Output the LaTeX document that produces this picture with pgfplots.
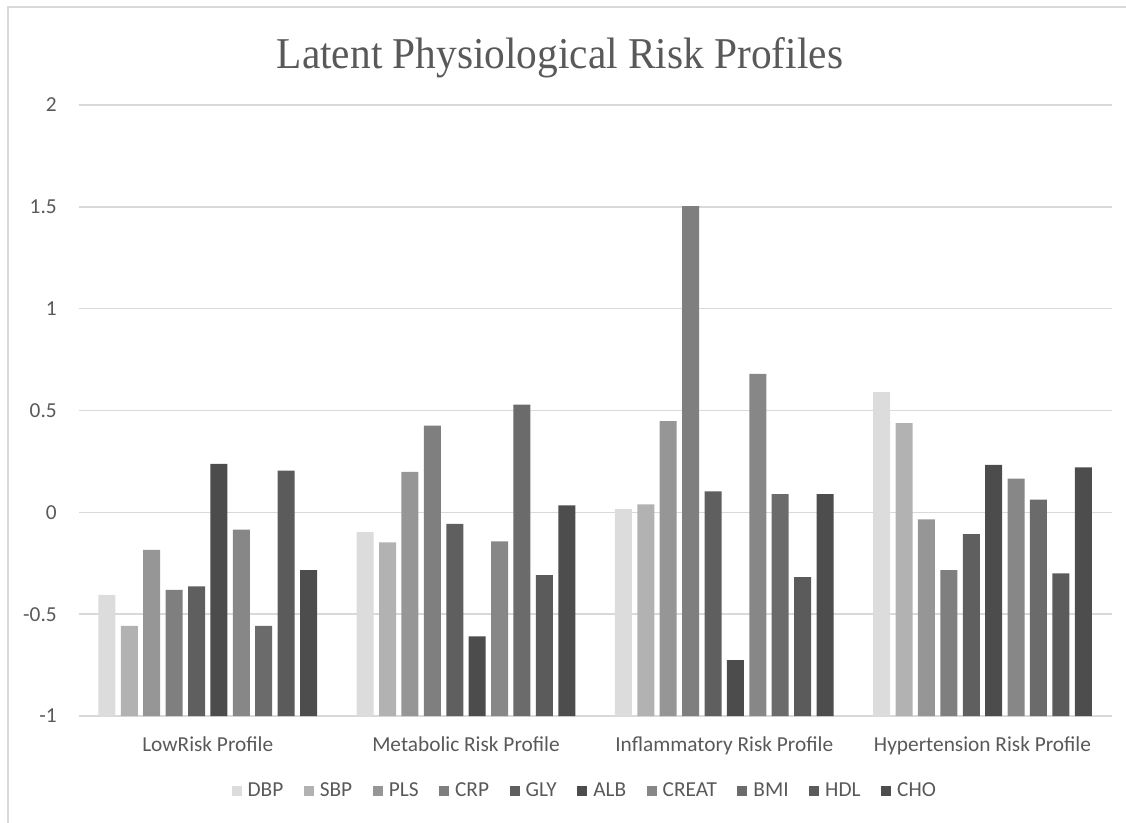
\documentclass[border=0pt]{standalone}
\usepackage{fontspec}
\setmainfont{Carlito}
\newfontfamily\titlefont{Liberation Serif}
\usepackage{pgfplots}
\usepackage{pgfplotstable}
\pgfplotsset{compat=1.18}
\definecolor{tickgray}{HTML}{595959}
\definecolor{gridgray}{HTML}{D9D9D9}
\definecolor{cDBP}{HTML}{DCDCDC}
\definecolor{cSBP}{HTML}{B2B2B2}
\definecolor{cPLS}{HTML}{969696}
\definecolor{cCRP}{HTML}{7F7F7F}
\definecolor{cGLY}{HTML}{5F5F5F}
\definecolor{cALB}{HTML}{4C4C4C}
\definecolor{cCREAT}{HTML}{878787}
\definecolor{cBMI}{HTML}{6B6B6B}
\definecolor{cHDL}{HTML}{5B5B5B}
\definecolor{cCHO}{HTML}{4D4D4D}
\pgfplotstableread{
x DBP SBP PLS CRP GLY ALB CREAT BMI HDL CHO
0 -0.405 -0.558 -0.184 -0.381 -0.363 0.238 -0.085 -0.558 0.205 -0.284
1 -0.097 -0.148 0.199 0.426 -0.057 -0.609 -0.143 0.529 -0.308 0.034
2 0.017 0.039 0.448 1.503 0.103 -0.726 0.680 0.089 -0.318 0.089
3 0.590 0.438 -0.034 -0.284 -0.107 0.233 0.166 0.062 -0.300 0.221
}\datatable
\begin{document}
\begin{tikzpicture}
\path[use as bounding box] (-58.95pt,-80.25pt) rectangle (785.55pt,537pt);
\draw[gridgray, line width=1.1pt] (-52.95pt,-80.25pt) -- (-52.95pt,531.75pt) -- (785.55pt,531.75pt);
% bars rise from the axis minimum (-1), as in the reference: values are plotted as value+1 on a 0..3 axis
\begin{axis}[
  at={(0,0)}, anchor=south west,
  scale only axis, width=774.75pt, height=458.25pt,
  ybar=4.05pt, bar width=12.75pt,
  ymin=0, ymax=3,
  xmin=-0.5, xmax=3.5,
  ytick={0,0.5,1,1.5,2,2.5,3},
  yticklabels={-1,-0.5,0,0.5,1,1.5,2},
  xtick={0,1,2,3},
  xticklabels={LowRisk Profile,Metabolic Risk Profile,Inflammatory Risk Profile,Hypertension Risk Profile},
  ymajorgrids,
  major grid style={gridgray, line width=1.1pt},
  axis line style={draw=none},
  major tick length=0pt,
  tick style={draw=none},
  yticklabel style={font=\fontsize{16}{19}\selectfont, text=tickgray, anchor=east, inner sep=0pt, xshift=-16.2pt},
  xticklabel style={font=\fontsize{16}{19}\selectfont, text=tickgray, anchor=base, inner sep=0pt, yshift=-26.25pt},
  clip=false,
  every axis plot post/.append style={/pgfplots/legend image code/.code={\fill[##1] (0pt,-3.75pt) rectangle (7.5pt,3.75pt);}},
  legend style={draw=none, fill=none, at={(0.489,-0.1228)}, anchor=center,
    font=\fontsize{16}{19}\selectfont, text=tickgray,
    /tikz/every even column/.append style={column sep=15.4pt},
    /tikz/every odd column/.append style={column sep=4.5pt},
    nodes={inner sep=0pt}},
  legend columns=-1,
  legend cell align=left,
]
\addplot[fill=cDBP, draw=none] table[x=x, y expr=\thisrow{DBP}+1] {\datatable};
\addplot[fill=cSBP, draw=none] table[x=x, y expr=\thisrow{SBP}+1] {\datatable};
\addplot[fill=cPLS, draw=none] table[x=x, y expr=\thisrow{PLS}+1] {\datatable};
\addplot[fill=cCRP, draw=none] table[x=x, y expr=\thisrow{CRP}+1] {\datatable};
\addplot[fill=cGLY, draw=none] table[x=x, y expr=\thisrow{GLY}+1] {\datatable};
\addplot[fill=cALB, draw=none] table[x=x, y expr=\thisrow{ALB}+1] {\datatable};
\addplot[fill=cCREAT, draw=none] table[x=x, y expr=\thisrow{CREAT}+1] {\datatable};
\addplot[fill=cBMI, draw=none] table[x=x, y expr=\thisrow{BMI}+1] {\datatable};
\addplot[fill=cHDL, draw=none] table[x=x, y expr=\thisrow{HDL}+1] {\datatable};
\addplot[fill=cCHO, draw=none] table[x=x, y expr=\thisrow{CHO}+1] {\datatable};
\legend{DBP,SBP,PLS,CRP,GLY,ALB,CREAT,BMI,HDL,CHO}
\end{axis}
\node[anchor=base, text=tickgray, font=\titlefont\fontsize{33}{38}\selectfont, xscale=0.94] at (361.05pt,485.25pt) {Latent Physiological Risk Profiles};
\end{tikzpicture}
\end{document}
